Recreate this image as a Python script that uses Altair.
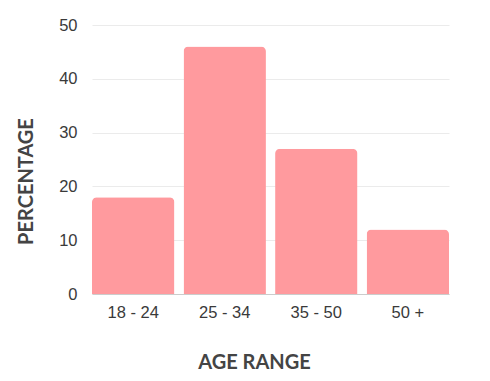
import altair as alt
import pandas as pd

categories = ["18 - 24", "25 - 34", "35 - 50", "50 +"]
values = [18, 46, 27, 12]

df = pd.DataFrame({"age": categories, "pct": values})

chart = alt.Chart(df).mark_bar(
    color="#FF9A9E", cornerRadiusTopLeft=5, cornerRadiusTopRight=5
).encode(
    x=alt.X("age:N", sort=categories,
            scale=alt.Scale(paddingInner=0.1, paddingOuter=0),
            axis=alt.Axis(title="AGE RANGE", labelAngle=0, ticks=False,
                          domainColor="#cccccc", labelPadding=10,
                          titleX=162, titleY=68, titleBaseline="middle",
                          titleAnchor="middle")),
    y=alt.Y("pct:Q", scale=alt.Scale(domain=[0, 50]),
            axis=alt.Axis(title="PERCENTAGE", values=[0, 10, 20, 30, 40, 50],
                          ticks=False, domain=False, labelPadding=15,
                          gridColor="#ebebeb",
                          titleX=-66, titleY=156, titleBaseline="middle",
                          titleAnchor="middle")),
).properties(
    width=357, height=269,
    autosize=alt.AutoSizeParams(type="none"),
    padding={"left": 84, "top": 17, "right": 33, "bottom": 80},
).configure_view(stroke=None).configure_axis(
    labelFont="Liberation Sans", labelFontSize=16.5, labelColor="#3a3a3a",
    titleFont="Lato", titleFontSize=20, titleFontWeight="bold",
    titleColor="#444444",
)

chart.save("out.html", embed_options={"renderer": "svg", "actions": False})
